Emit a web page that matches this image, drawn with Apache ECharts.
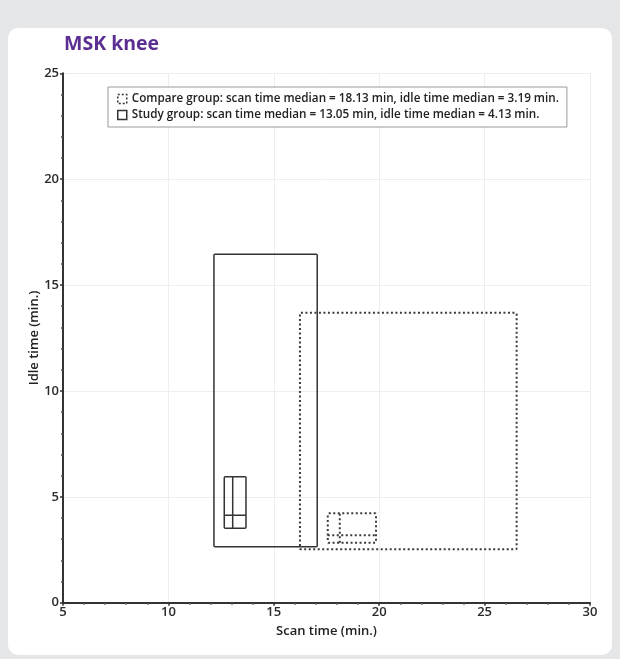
<!DOCTYPE html>
<html><head><meta charset="utf-8">
<script src="https://cdn.jsdelivr.net/npm/echarts@6/dist/echarts.min.js"></script>
<style>html,body{margin:0;padding:0;background:#e5e6e8;}#c{width:620px;height:659px;}</style>
</head><body><div id="c"></div>
<script>
const groups = ['Compare group', 'Study group'];
const scanMin = [16.24, 12.16];
const scanQ1 = [17.56, 12.65];
const scanMedian = [18.13, 13.05];
const scanQ3 = [19.85, 13.68];
const scanMax = [26.52, 17.06];
const idleMin = [2.52, 2.64];
const idleQ1 = [2.83, 3.51];
const idleMedian = [3.19, 4.13];
const idleQ3 = [4.22, 5.95];
const idleMax = [13.69, 16.46];
const xTicks = [5, 10, 15, 20, 25, 30];
const yTicks = [0, 5, 10, 15, 20, 25];

const lineStyles = [
  {stroke: '#3a3a3a', lineWidth: 2, lineDash: [2, 2.5], fill: null},
  {stroke: '#333', lineWidth: 1.5, fill: null}
];

function makeSeries(i) {
  return {
    type: 'custom',
    name: groups[i],
    data: [[scanMin[i], scanQ1[i], scanMedian[i], scanQ3[i], scanMax[i], idleMin[i], idleQ1[i], idleMedian[i], idleQ3[i], idleMax[i]]],
    itemStyle: {color: '#fff', borderColor: '#333', borderWidth: 1.5, borderType: i === 0 ? 'dotted' : 'solid'},
    renderItem: function (params, api) {
      const v = k => api.value(k);
      const p = (x, y) => api.coord([x, y]);
      const st = lineStyles[i];
      function rect(x0, x1, y0, y1) {
        const a = p(x0, y1), b = p(x1, y0);
        return {type: 'rect', shape: {x: a[0], y: a[1], width: b[0] - a[0], height: b[1] - a[1], r: 1}, style: Object.assign({}, st)};
      }
      function line(x0, y0, x1, y1) {
        const a = p(x0, y0), b = p(x1, y1);
        return {type: 'line', shape: {x1: a[0], y1: a[1], x2: b[0], y2: b[1]}, style: Object.assign({}, st)};
      }
      return {type: 'group', children: [
        rect(v(0), v(4), v(5), v(9)),
        rect(v(1), v(3), v(6), v(8)),
        line(v(2), v(6), v(2), v(8)),
        line(v(1), v(7), v(3), v(7))
      ]};
    }
  };
}

const chart = echarts.init(document.getElementById('c'));
const tickFont = {fontFamily: 'Open Sans', fontSize: 13, fontWeight: 600, color: '#2a2a2a'};
chart.setOption({
  animation: false,
  backgroundColor: '#e5e6e8',
  graphic: [
    {type: 'rect', left: 8, top: 28, shape: {width: 604, height: 627, r: 10}, style: {fill: '#fff'}, z: -10},
    {type: 'text', left: 64, top: 34, style: {text: 'MSK knee', fontFamily: 'Open Sans', fontWeight: 700, fontSize: 19.5, fill: '#5b2e91'}}
  ],
  grid: {left: 63, right: 30, top: 73.3, bottom: 56.3},
  legend: {
    orient: 'vertical', left: 108, top: 87, width: 456,
    padding: [6, 8, 6, 9], itemGap: 4,
    borderColor: '#999', borderWidth: 1, backgroundColor: '#fff',
    itemWidth: 9, itemHeight: 9, itemStyle: {borderWidth: 1.5},
    textStyle: {fontFamily: 'Open Sans', fontSize: 11.7, fontWeight: 600, color: '#222'},
    data: groups.map((g, i) => ({
      name: g, icon: 'rect',
      itemStyle: {color: '#fff', borderColor: '#333', borderWidth: 1.5, borderType: i === 0 ? [2, 2] : 'solid'}
    })),
    formatter: function (name) {
      const i = groups.indexOf(name);
      return name + ': scan time median = ' + scanMedian[i].toFixed(2) + ' min, idle time median = ' + idleMedian[i].toFixed(2) + ' min.';
    }
  },
  xAxis: {
    type: 'value', min: xTicks[0], max: xTicks[xTicks.length - 1], interval: 5,
    name: 'Scan time (min.)', nameLocation: 'middle', nameGap: 22,
    nameTextStyle: {fontFamily: 'Open Sans', fontSize: 13, fontWeight: 600, color: '#222'},
    axisLine: {lineStyle: {color: '#333', width: 2}},
    axisTick: {show: true, length: 3, lineStyle: {color: '#333', width: 1.5}},
    minorTick: {show: true, splitNumber: 5, length: 2, lineStyle: {color: '#555', width: 1.5}},
    splitLine: {show: true, lineStyle: {color: '#eeeeee', width: 1}},
    axisLabel: Object.assign({margin: 3, lineHeight: 13}, tickFont)
  },
  yAxis: {
    type: 'value', min: yTicks[0], max: yTicks[yTicks.length - 1], interval: 5,
    name: 'Idle time (min.)', nameLocation: 'middle', nameGap: 22, nameRotate: 90, nameMoveOverlap: false,
    nameTextStyle: {fontFamily: 'Open Sans', fontSize: 13, fontWeight: 600, color: '#222'},
    axisLine: {show: true, lineStyle: {color: '#333', width: 2}},
    axisTick: {show: true, length: 3, lineStyle: {color: '#333', width: 1.5}},
    minorTick: {show: true, splitNumber: 5, length: 2, lineStyle: {color: '#555', width: 1.5}},
    splitLine: {show: true, lineStyle: {color: '#eeeeee', width: 1}},
    axisLabel: Object.assign({margin: 4}, tickFont)
  },
  series: [makeSeries(0), makeSeries(1)]
});
</script></body></html>
